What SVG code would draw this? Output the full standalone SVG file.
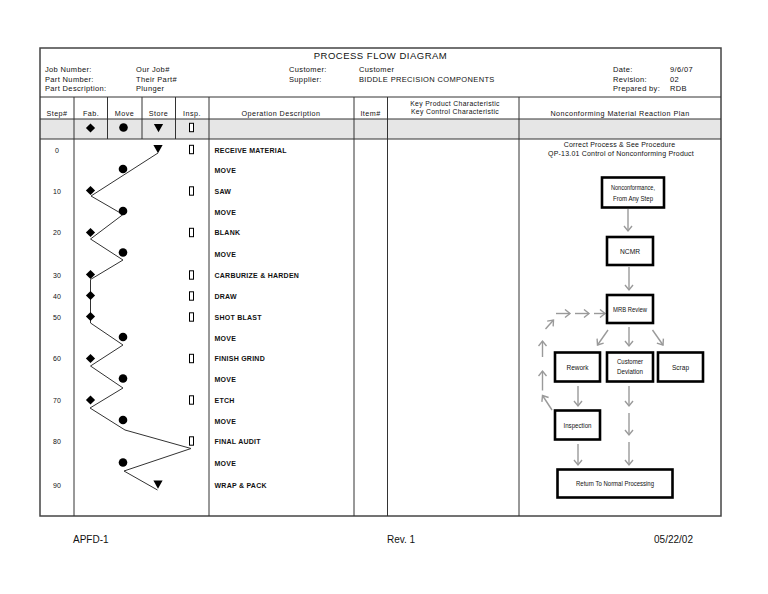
<svg xmlns="http://www.w3.org/2000/svg" width="768" height="594" viewBox="0 0 768 594">
<style>
.t{font-family:"Liberation Sans",Arial,sans-serif;fill:#111}
.h{font-size:7.5px;letter-spacing:0.35px}
.ch{font-size:7.2px;letter-spacing:0.45px}
.kc{font-size:6.8px;letter-spacing:0.35px;text-anchor:middle}
.op{font-size:7px;font-weight:bold;letter-spacing:0.25px}
.st{font-size:7px;text-anchor:middle}
.fc{font-size:8px;text-anchor:middle}
.ft{font-size:10px}
.ln{stroke:#333;stroke-width:1;fill:none}
.box{fill:#fff;stroke:#000;stroke-width:2.6}
.arr{stroke:#9a9a9a;stroke-width:1.4;fill:none;marker-end:url(#ah)}
.sym{fill:#000}
.ins{fill:#fff;stroke:#000;stroke-width:1}
</style>
<defs>
<marker id="ah" markerWidth="9" markerHeight="10" refX="6.5" refY="5" orient="auto" markerUnits="userSpaceOnUse">
<path d="M1.5,1 L6.5,5 L1.5,9" fill="none" stroke="#9a9a9a" stroke-width="1.4"/>
</marker>
<path id="dia" d="M0,-4.6 L4.6,0 L0,4.6 L-4.6,0 Z"/>
<path id="tri" d="M-4.6,-4 L4.6,-4 L0,4.2 Z"/>
<rect id="ir" x="-2" y="-4.2" width="4" height="8.4"/>
</defs>
<rect width="768" height="594" fill="#fff"/>
<g opacity="0.995">

<g id="table">
<rect x="74" y="119" width="445" height="20" fill="#e6e6e6"/>
<rect x="519" y="119" width="202" height="20" fill="#e6e6e6"/>
<rect x="40" y="119" width="34" height="20" fill="#e6e6e6"/>
<rect x="40" y="48" width="681" height="468" fill="none" stroke="#444" stroke-width="1.5"/>
<line class="ln" x1="40" y1="97" x2="721" y2="97"/>
<line class="ln" x1="40" y1="119" x2="721" y2="119"/>
<line class="ln" x1="40" y1="139" x2="721" y2="139"/>
<line class="ln" x1="74" y1="97" x2="74" y2="516"/>
<line class="ln" x1="107.5" y1="97" x2="107.5" y2="139"/>
<line class="ln" x1="142" y1="97" x2="142" y2="139"/>
<line class="ln" x1="175.5" y1="97" x2="175.5" y2="139"/>
<line class="ln" x1="209" y1="97" x2="209" y2="516"/>
<line class="ln" x1="354" y1="97" x2="354" y2="516"/>
<line class="ln" x1="387.5" y1="97" x2="387.5" y2="516"/>
<line class="ln" x1="519" y1="97" x2="519" y2="516"/>
</g>

<g id="header">
<text class="t" x="380.5" y="59" font-size="9.5" text-anchor="middle" letter-spacing="0.5">PROCESS FLOW DIAGRAM</text>
<text class="t h" x="45" y="72">Job Number:</text>
<text class="t h" x="45" y="81.5">Part Number:</text>
<text class="t h" x="45" y="91">Part Description:</text>
<text class="t h" x="136" y="72">Our Job#</text>
<text class="t h" x="136" y="81.5">Their Part#</text>
<text class="t h" x="136" y="91">Plunger</text>
<text class="t h" x="289" y="72">Customer:</text>
<text class="t h" x="289" y="81.5">Supplier:</text>
<text class="t h" x="359" y="72">Customer</text>
<text class="t h" x="359" y="81.5">BIDDLE PRECISION COMPONENTS</text>
<text class="t h" x="613" y="72">Date:</text>
<text class="t h" x="613" y="81.5">Revision:</text>
<text class="t h" x="613" y="91">Prepared by:</text>
<text class="t h" x="670" y="72">9/6/07</text>
<text class="t h" x="670" y="81.5">02</text>
<text class="t h" x="670" y="91">RDB</text>
</g>

<g id="colheads">
<text class="t ch" x="57" y="116" text-anchor="middle">Step#</text>
<text class="t ch" x="91" y="116" text-anchor="middle">Fab.</text>
<text class="t ch" x="124.5" y="116" text-anchor="middle">Move</text>
<text class="t ch" x="158.5" y="116" text-anchor="middle">Store</text>
<text class="t ch" x="192" y="116" text-anchor="middle">Insp.</text>
<text class="t ch" x="281" y="116" text-anchor="middle">Operation Description</text>
<text class="t ch" x="370.5" y="116" text-anchor="middle">Item#</text>
<text class="t kc" x="455" y="105.5">Key Product Characteristic</text>
<text class="t kc" x="455" y="113.5">Key Control Characteristic</text>
<text class="t ch" x="620" y="116" text-anchor="middle">Nonconforming Material Reaction Plan</text>
<use href="#dia" class="sym" x="90.5" y="128"/>
<circle class="sym" cx="123.5" cy="127.5" r="4.3"/>
<use href="#tri" class="sym" x="158.5" y="128"/>
<use href="#ir" class="ins" x="191.5" y="127.5"/>
</g>

<g id="steps">
<text class="t st" x="57" y="152.5">0</text>
<text class="t st" x="57" y="193.5">10</text>
<text class="t st" x="57" y="235">20</text>
<text class="t st" x="57" y="277.5">30</text>
<text class="t st" x="57" y="298.5">40</text>
<text class="t st" x="57" y="319.5">50</text>
<text class="t st" x="57" y="361">60</text>
<text class="t st" x="57" y="402.5">70</text>
<text class="t st" x="57" y="443.5">80</text>
<text class="t st" x="57" y="487.5">90</text>
</g>

<g id="operations">
<text class="t op" x="214.5" y="152.5">RECEIVE MATERIAL</text>
<text class="t op" x="214.5" y="172.5">MOVE</text>
<text class="t op" x="214.5" y="193.5">SAW</text>
<text class="t op" x="214.5" y="214.5">MOVE</text>
<text class="t op" x="214.5" y="235">BLANK</text>
<text class="t op" x="214.5" y="256.5">MOVE</text>
<text class="t op" x="214.5" y="277.5">CARBURIZE &amp; HARDEN</text>
<text class="t op" x="214.5" y="298.5">DRAW</text>
<text class="t op" x="214.5" y="319.5">SHOT BLAST</text>
<text class="t op" x="214.5" y="340.5">MOVE</text>
<text class="t op" x="214.5" y="361">FINISH GRIND</text>
<text class="t op" x="214.5" y="381.5">MOVE</text>
<text class="t op" x="214.5" y="402.5">ETCH</text>
<text class="t op" x="214.5" y="423.5">MOVE</text>
<text class="t op" x="214.5" y="443.5">FINAL AUDIT</text>
<text class="t op" x="214.5" y="465.5">MOVE</text>
<text class="t op" x="214.5" y="487.5">WRAP &amp; PACK</text>
</g>

<g id="connectors">
<polyline class="ln" stroke="#222" points="158,153 91,196 123,214.5 90.5,239 123,260 90.5,279.5 90.5,323 123,345 90.5,366 123,388 90,408 125,430 191,448.5 124,471 157.5,490"/>
<line class="arr" x1="628" y1="209" x2="628" y2="231"/>
<line class="arr" x1="629" y1="267" x2="629" y2="290"/>
<line class="arr" x1="608" y1="330" x2="597.5" y2="345"/>
<line class="arr" x1="629" y1="327" x2="629" y2="346"/>
<line class="arr" x1="652.5" y1="330" x2="663" y2="345"/>
<line class="arr" x1="578" y1="386" x2="578" y2="406"/>
<line class="arr" x1="578" y1="444" x2="578" y2="465"/>
<line class="arr" x1="629" y1="386" x2="629" y2="406"/>
<line class="arr" x1="629" y1="413" x2="629" y2="435"/>
<line class="arr" x1="629" y1="442" x2="629" y2="465"/>
<line class="arr" x1="552" y1="410" x2="542.5" y2="395.5"/>
<line class="arr" x1="542.5" y1="390.5" x2="542.5" y2="371"/>
<line class="arr" x1="542.5" y1="357" x2="542.5" y2="341"/>
<line class="arr" x1="545.5" y1="329" x2="553.5" y2="320"/>
<line class="arr" x1="556" y1="313.5" x2="570" y2="313.5"/>
<line class="arr" x1="575" y1="313.5" x2="589" y2="313.5"/>
<line class="arr" x1="594" y1="313.5" x2="605" y2="313.5"/>
</g>

<g id="symbols">
<use href="#tri" class="sym" x="158" y="149"/>
<use href="#ir" class="ins" x="191.5" y="149.5"/>
<circle class="sym" cx="123" cy="169" r="4.3"/>
<use href="#dia" class="sym" x="90.5" y="190.5"/>
<use href="#ir" class="ins" x="191.5" y="191"/>
<circle class="sym" cx="123" cy="211" r="4.3"/>
<use href="#dia" class="sym" x="90.5" y="232.5"/>
<use href="#ir" class="ins" x="191.5" y="232.5"/>
<circle class="sym" cx="123" cy="252.5" r="4.3"/>
<use href="#dia" class="sym" x="90.5" y="274.5"/>
<use href="#ir" class="ins" x="191.5" y="275"/>
<use href="#dia" class="sym" x="90.5" y="295.5"/>
<use href="#ir" class="ins" x="191.5" y="296"/>
<use href="#dia" class="sym" x="90.5" y="316.5"/>
<use href="#ir" class="ins" x="191.5" y="317"/>
<circle class="sym" cx="123" cy="337" r="4.3"/>
<use href="#dia" class="sym" x="90.5" y="358.5"/>
<use href="#ir" class="ins" x="191.5" y="358.5"/>
<circle class="sym" cx="123" cy="378.5" r="4.3"/>
<use href="#dia" class="sym" x="90.5" y="400"/>
<use href="#ir" class="ins" x="191.5" y="400"/>
<circle class="sym" cx="123" cy="420" r="4.3"/>
<use href="#ir" class="ins" x="191.5" y="441"/>
<circle class="sym" cx="123" cy="462.5" r="4.3"/>
<use href="#tri" class="sym" x="158" y="484.5"/>
</g>

<g id="plan-note">
<text class="t" x="619.5" y="146.5" font-size="7" text-anchor="middle" letter-spacing="0.2">Correct Process &amp; See Procedure</text>
<text class="t" x="621" y="155.5" font-size="7" text-anchor="middle" letter-spacing="0.2">QP-13.01 Control of Nonconforming Product</text>
</g>

<g id="n-nonconformance">
<rect class="box" x="602" y="177.5" width="62" height="30"/>
<text class="t fc" x="633" y="190" textLength="44" lengthAdjust="spacingAndGlyphs">Nonconformance,</text>
<text class="t fc" x="633" y="201" textLength="40" lengthAdjust="spacingAndGlyphs">From Any Step</text>
</g>
<g id="n-ncmr">
<rect class="box" x="607" y="237" width="46" height="28"/>
<text class="t fc" x="630" y="253.5" textLength="20" lengthAdjust="spacingAndGlyphs">NCMR</text>
</g>
<g id="n-mrb">
<rect class="box" x="607" y="295" width="46" height="28"/>
<text class="t fc" x="630" y="311.5" textLength="34" lengthAdjust="spacingAndGlyphs">MRB Review</text>
</g>
<g id="n-rework">
<rect class="box" x="555" y="352.5" width="45" height="29"/>
<text class="t fc" x="577.5" y="369.5" textLength="22" lengthAdjust="spacingAndGlyphs">Rework</text>
</g>
<g id="n-deviation">
<rect class="box" x="607" y="352.5" width="46" height="29"/>
<text class="t fc" x="630" y="363.5" textLength="26" lengthAdjust="spacingAndGlyphs">Customer</text>
<text class="t fc" x="630" y="374" textLength="26" lengthAdjust="spacingAndGlyphs">Deviation</text>
</g>
<g id="n-scrap">
<rect class="box" x="658" y="352.5" width="45" height="29"/>
<text class="t fc" x="680.5" y="369.5" textLength="17" lengthAdjust="spacingAndGlyphs">Scrap</text>
</g>
<g id="n-inspection">
<rect class="box" x="555" y="410.5" width="45" height="29"/>
<text class="t fc" x="577.5" y="427.5" textLength="28" lengthAdjust="spacingAndGlyphs">Inspection</text>
</g>
<g id="n-return">
<rect class="box" x="557.5" y="469.5" width="115" height="28"/>
<text class="t fc" x="615" y="486" textLength="78" lengthAdjust="spacingAndGlyphs">Return To Normal Processing</text>
</g>

<g id="footer">
<text class="t ft" x="73" y="542.5">APFD-1</text>
<text class="t ft" x="387" y="542.5">Rev. 1</text>
<text class="t ft" x="693" y="542.5" text-anchor="end">05/22/02</text>
</g>
</g>
</svg>
